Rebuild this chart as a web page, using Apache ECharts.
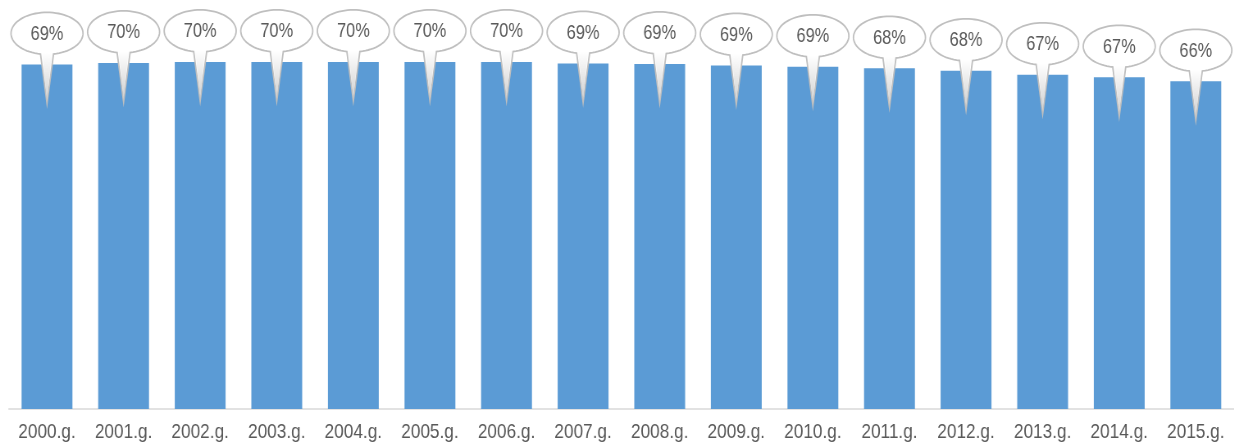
<!DOCTYPE html>
<html>
<head>
<meta charset="utf-8">
<script src="https://cdn.jsdelivr.net/npm/echarts@6/dist/echarts.min.js"></script>
<style>
html,body{margin:0;padding:0;background:#fff;overflow:hidden;}
#wrap{width:1234px;height:448px;overflow:hidden;}
#chart{height:448px;transform-origin:0 0;}
</style>
</head>
<body>
<div id="wrap"><div id="chart"></div></div>
<script>
const categories = ['2000.g.','2001.g.','2002.g.','2003.g.','2004.g.','2005.g.','2006.g.','2007.g.','2008.g.','2009.g.','2010.g.','2011.g.','2012.g.','2013.g.','2014.g.','2015.g.'];
const values = [69.2, 69.5, 69.7, 69.7, 69.7, 69.7, 69.7, 69.4, 69.3, 69.0, 68.7, 68.4, 67.9, 67.1, 66.6, 65.8];

// narrow text look (Arial Narrow style): chart drawn wider, then compressed horizontally
const SX = 0.82;
const FONT = '"Liberation Sans",Arial,sans-serif';
const el = document.getElementById('chart');
el.style.width = (1234 / SX) + 'px';
el.style.transform = 'scaleX(' + SX + ')';

const chart = echarts.init(el, null, {renderer: 'canvas'});

function renderCallout(params, api) {
  const v = api.value(1);
  const p = api.coord([api.value(0), v]);
  const cx = p[0], top = p[1];
  const cy = top - 31, rx = 36 / SX, ry = 21;
  const tipY = top + 39;
  const hw = 6.5 / SX;
  const d = Math.asin(hw / rx);
  const pts = [];
  const n = 72;
  for (let k = 0; k <= n; k++) {
    const phi = d + (2 * Math.PI - 2 * d) * k / n;
    pts.push([cx - rx * Math.sin(phi), cy + ry * Math.cos(phi)]);
  }
  pts.push([cx, tipY]);
  const by = cy + ry * Math.cos(d);
  return {
    type: 'group',
    children: [
      {
        type: 'polygon',
        shape: {points: pts},
        style: {fill: '#ffffff', stroke: '#bfbfbf', lineWidth: 1.8}
      },
      {
        type: 'polygon',
        shape: {points: [[cx - hw + 2, by - 1], [cx + hw - 2, by - 1], [cx, tipY - 2]]},
        style: {
          fill: new echarts.graphic.LinearGradient(0, 0, 0, 1, [
            {offset: 0, color: '#ffffff'},
            {offset: 1, color: '#cfcfcf'}
          ])
        }
      },
      {
        type: 'text',
        style: {
          text: Math.round(v) + '%',
          x: cx, y: cy + 1,
          align: 'center', verticalAlign: 'middle',
          fill: '#595959', fontSize: 20, fontFamily: FONT
        }
      }
    ]
  };
}

chart.setOption({
  animation: false,
  grid: {left: 8.7 / SX, right: -5.2 / SX, top: 10.6, bottom: 39, containLabel: false},
  xAxis: {
    type: 'category',
    data: categories,
    axisLine: {lineStyle: {color: '#d9d9d9', width: 1.5}},
    axisTick: {length: 6, interval: 0, lineStyle: {color: '#d9d9d9', width: 1.5}},
    axisLabel: {color: '#595959', fontSize: 21, fontFamily: FONT, margin: 13, interval: 0}
  },
  yAxis: {
    type: 'value', min: 0, max: 80, show: false, splitLine: {show: false}
  },
  series: [
    {
      type: 'bar',
      data: values,
      barCategoryGap: '33.6%',
      itemStyle: {color: '#5b9bd5'}
    },
    {
      type: 'custom',
      data: values.map((v, i) => [i, v]),
      encode: {x: 0, y: 1},
      renderItem: renderCallout,
      clip: false,
      z: 5
    }
  ]
});
</script>
</body>
</html>
